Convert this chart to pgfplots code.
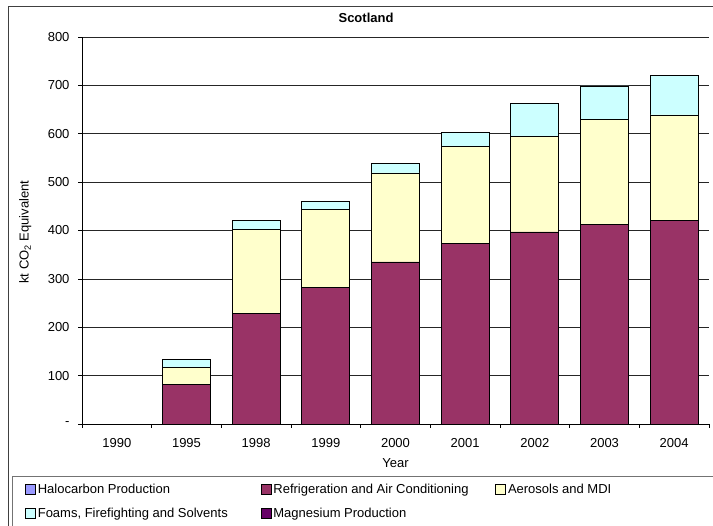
\documentclass[border=0pt]{standalone}
\usepackage{fontspec}
\setmainfont{Liberation Sans}
\usepackage{pgfplots}
\usepackage{pgfplotstable}
\pgfplotsset{compat=1.18}
\definecolor{halo}{HTML}{9999FF}
\definecolor{refr}{HTML}{993366}
\definecolor{aero}{HTML}{FFFFCC}
\definecolor{foam}{HTML}{CCFFFF}
\definecolor{mag}{HTML}{660066}
\pgfplotstableread{
x halo refr aero foam mag
0 0 0 0 0 0
1 0 81 36 17 0
2 0 229 174 17 0
3 0 283 161 17 0
4 0 335 184 20 0
5 0 374 199 30 0
6 0 397 198 68 0
7 0 413 216 70 0
8 0 421 218 81 0
}\data
\begin{document}
\fontsize{13bp}{15bp}\selectfont
\begin{tikzpicture}[x=1bp,y=1bp]
\useasboundingbox (0,0) rectangle (713,526);
\draw[black!75, line width=1bp] (8,-5) -- (8,519) -- (720,519);
\draw[black!55, line width=0.8bp] (12.5,-5) -- (12.5,50) -- (720,50);
\begin{axis}[
  at={(82bp,102bp)}, anchor=south west,
  width=627bp, height=387bp, scale only axis,
  ybar stacked, bar width=48bp,
  xmin=-0.5, xmax=8.5, ymin=0, ymax=800,
  axis lines*=left,
  axis line style={line width=0.8bp},
  xtick={0,...,8},
  xticklabels={1990,1995,1998,1999,2000,2001,2002,2003,2004},
  xticklabel style={yshift=-6bp},
  yticklabel style={xshift=-4bp},
  major x tick style={draw=none},
  minor xtick={-0.5,0.5,...,8.5},
  minor tick length=4bp,
  major tick length=4bp,
  tick align=outside,
  tick style={black, line width=0.6bp},
  ytick={0,100,...,800},
  yticklabels={-,100,200,300,400,500,600,700,800},
  ymajorgrids,
  major grid style={black!85, line width=0.6bp},
  /pgf/number format/assume math mode=true,
  title={\bfseries Scotland},
  title style={at={(axis description cs:0.453,1.049)}, anchor=center, inner sep=0pt, yshift=-6bp},
  xlabel={Year},
  xlabel style={at={(axis description cs:0.5,-0.1008)}, anchor=center, inner sep=0pt},
  ylabel={kt CO\textsubscript{2} Equivalent},
  ylabel style={at={(axis description cs:-0.0905,0.496)}, anchor=center, inner sep=0pt, rotate=0},
  legend columns=3,
  legend style={at={(axis description cs:-0.0909,-0.1395)}, anchor=north west,
    draw=none, fill=none, inner sep=0pt, column sep=0pt,
    nodes={inner xsep=2bp, inner ysep=6bp, text height=9.5bp, text depth=2.5bp, anchor=base west}},
  legend cell align=left,
  mylegend/.style={legend image code/.code={\draw[##1, draw=black, line width=0.6bp] (0bp,-0.5bp) rectangle (10bp,9.5bp);}},
  every axis plot/.append style={draw=black, line width=0.7bp},
]
\addplot[fill=halo, mylegend] table[x=x, y=halo] {\data};
\addlegendentry{\makebox[221bp][l]{Halocarbon Production}}
\addplot[fill=refr, mylegend] table[x=x, y=refr] {\data};
\addlegendentry{\makebox[220bp][l]{Refrigeration and Air Conditioning}}
\addplot[fill=aero, mylegend] table[x=x, y=aero] {\data};
\addlegendentry{Aerosols and MDI}
\addplot[fill=foam, mylegend] table[x=x, y=foam] {\data};
\addlegendentry{\makebox[221bp][l]{Foams, Firefighting and Solvents}}
\addplot[fill=mag, mylegend] table[x=x, y=mag] {\data};
\addlegendentry{\makebox[220bp][l]{Magnesium Production}}
\end{axis}
\end{tikzpicture}
\end{document}
